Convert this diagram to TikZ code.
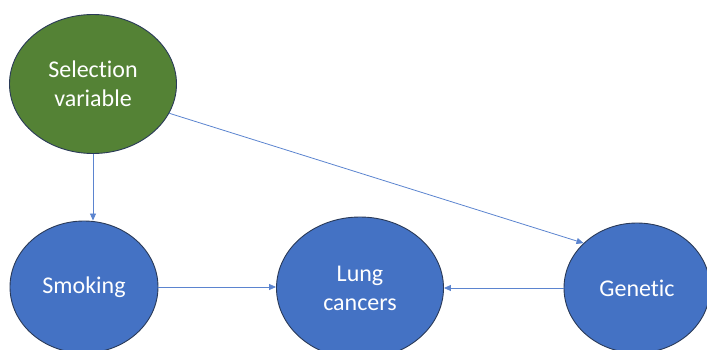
\documentclass[tikz,border=0pt]{standalone}
\usepackage{fontspec}
\setmainfont{Carlito}[RawFeature=-liga]
\usetikzlibrary{shapes.geometric,arrows.meta}
\definecolor{selgreen}{HTML}{548235}
\definecolor{nodeblue}{HTML}{4472C4}
\definecolor{edgeline}{HTML}{2A3A58}
\definecolor{arrowblue}{HTML}{5B84CF}
\tikzset{
  bubble/.style={ellipse, draw=edgeline, line width=0.9pt, inner sep=0pt, align=center,
    text=white, font=\fontsize{24}{29}\selectfont},
  link/.style={draw=arrowblue, line width=0.8pt, -{Triangle[length=7pt,width=6pt]}}
}
\begin{document}
\begin{tikzpicture}[x=1pt,y=1pt]
\useasboundingbox (0,0) rectangle (707,349);
\clip (0,0) rectangle (707,349);
\node[bubble, fill=selgreen, minimum width=167pt, minimum height=139pt] (sel) at (93,265) {Selection\\variable};
\node[bubble, fill=nodeblue, minimum width=148pt, minimum height=132pt] (smok) at (84,62) {Smoking};
\node[bubble, fill=nodeblue, minimum width=167pt, minimum height=142pt] (lung) at (360,61) {Lung\\cancers};
\node[bubble, fill=nodeblue, minimum width=146pt, minimum height=130pt] (gen) at (637,61) {Genetic};
\draw[link] (sel.south) -- (sel.south |- smok.north);
\draw[link] (smok.east) -- (smok.east -| lung.west);
\draw[link] (gen.west) -- (gen.west -| lung.east);
\draw[link] (sel.-21) -- (gen.140);
\end{tikzpicture}
\end{document}
